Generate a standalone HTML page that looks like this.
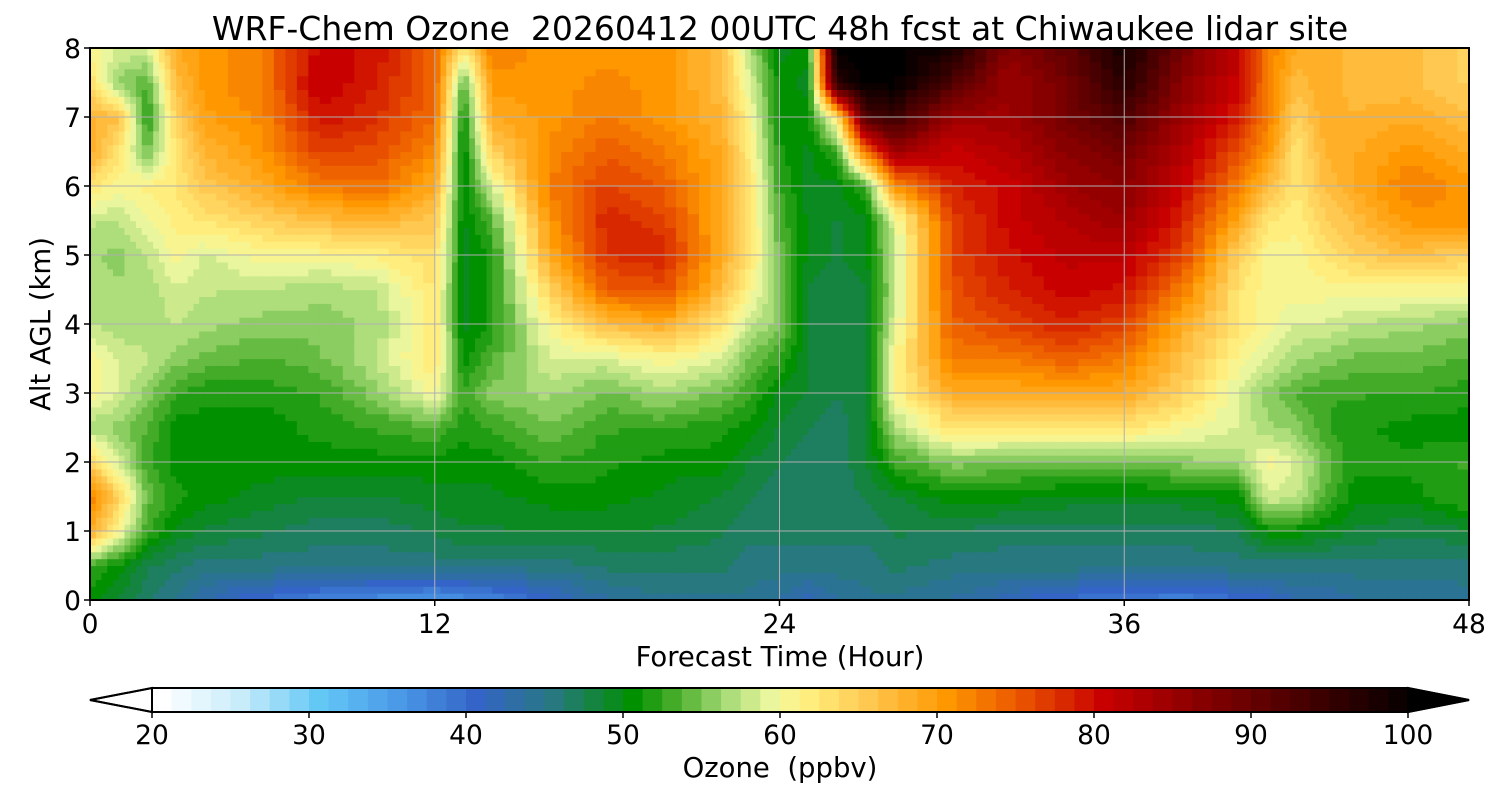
<!DOCTYPE html>
<html><head><meta charset="utf-8"><style>
html,body{margin:0;padding:0;background:#fff;}
svg{display:block;font-family:"DejaVu Sans","Liberation Sans",sans-serif;}
text{white-space:pre;}
</style></head><body>
<svg id="chart" width="1500" height="800" viewBox="0 0 1500 800" xmlns="http://www.w3.org/2000/svg">
<text x="780" y="40" font-size="33" text-anchor="middle" xml:space="preserve">WRF-Chem Ozone  20260412 00UTC 48h fcst at Chiwaukee lidar site</text>
<g id="cells"></g>
<g id="grid"></g>
<rect x="90" y="48" width="1379" height="552" fill="none" stroke="#000" stroke-width="2"/>
<g id="xticks"></g>
<g id="yticks"></g>
<text x="780" y="666" font-size="27.5" text-anchor="middle">Forecast Time (Hour)</text>
<text transform="translate(50,324) rotate(-90)" font-size="27.5" text-anchor="middle">Alt AGL (km)</text>
<g id="cbar"></g>
<g id="cbticks"></g>
<text x="780" y="777" font-size="27.5" text-anchor="middle" xml:space="preserve">Ozone  (ppbv)</text>
</svg>
<script>
const times=[0,1,2,3,4,6,8,10,12,13,14,16,18,20,22,23,24,25,26,27,28,30,32,34,36,38,40,41,42,43,44,46,48];
const alts=[0,0.5,1,1.5,2,2.5,3,3.5,4,4.5,5,5.5,6,6.5,7,7.5,8];
const ozone=[
[50,52,68,72,64,56,60,60,57,56,56,57,62,68,67,63,60],
[48,50,60,64,58,55,58,58,56,56,55,57,60,62,66,55,58],
[46,47,52,54,52,53,55,57,56,56,57,59,61,54,51,53,58],
[44,46,49,51,50,50,52,55,57,58,60,61,62,62,64,66,68],
[42,45,48,50,50,50,51,54,56,57,58,62,65,67,69,70,70],
[39,45,47,49,50,50,51,53,55,57,60,64,68,70,71,72,72],
[37,45,46,48,50,51,52,54,55,56,60,66,72,76,79,81,80],
[36,45,46,48,50,52,55,57,56,57,61,67,73,75,77,78,79],
[35,45,47,49,50,53,60,62,62,62,63,65,68,71,73,74,73],
[36,45,48,49,50,51,52,50,49,49,49,49,49,49,50,53,62],
[37,45,48,49,50,52,55,53,51,51,51,53,58,64,68,70,72],
[40,45,48,50,52,54,56,58,60,64,68,70,72,71,70,70,70],
[43,46,48,50,51,52,54,58,66,74,77,78,76,74,72,71,70],
[44,46,48,49,50,52,56,60,68,75,78,76,74,72,70,70,70],
[44,46,47,48,50,51,54,58,62,66,68,68,68,68,67,66,66],
[44,45,46,47,48,50,52,54,57,60,62,62,62,61,60,58,56],
[43,45,46,46,47,48,49,52,55,55,54,53,52,51,50,50,49],
[41,45,46,46,46,47,48,48,48,48,49,49,49,49,50,49,50],
[43,45,46,46,46,46,47,47,47,47,48,48,49,52,62,96,100],
[44,45,46,47,48,48,48,48,48,48,49,49,52,72,92,100,100],
[44,46,47,48,52,56,60,60,58,57,57,58,70,84,94,100,100],
[43,45,47,50,55,62,68,72,74,75,76,76,78,80,84,92,98],
[41,45,46,50,54,62,68,72,76,78,79,80,80,82,84,84,86],
[39,45,46,49,54,62,68,74,78,80,81,82,84,86,88,88,90],
[38,45,46,49,54,62,68,72,76,79,81,84,86,88,92,96,98],
[37,45,46,49,55,60,64,66,68,72,76,78,80,82,84,86,88],
[39,45,47,50,56,58,58,60,62,62,64,68,72,75,78,80,80],
[40,45,50,58,60,56,55,58,60,60,60,62,66,70,72,72,72],
[42,45,50,57,58,55,53,56,58,60,60,61,62,62,64,66,68],
[42,45,49,53,54,52,52,55,58,60,62,64,66,67,68,68,68],
[43,45,48,50,51,51,52,54,57,60,64,66,68,68,67,66,66],
[43,45,47,50,51,50,52,54,56,60,66,70,72,70,68,66,66],
[44,45,48,52,52,50,51,53,55,60,64,70,70,68,66,64,64]
];
const xTicks=[0,12,24,36,48];
const yTicks=[0,1,2,3,4,5,6,7,8];
const cbTicks=[20,30,40,50,60,70,80,90,100];

const NS="http://www.w3.org/2000/svg";
const X0=90,X1=1469,Y0=600,Y1=48;
function xs(t){return X0+(t-0)/(48-0)*(X1-X0);}
function ys(z){return Y0-(z-0)/(8-0)*(Y0-Y1);}
const CB0=152,CB1=1408;
function cs(v){return CB0+(v-20)/(100-20)*(CB1-CB0);}
const stops=[[20,[255,255,255]],[25,[200,236,250]],[30,[100,200,245]],[35,[74,154,232]],[40,[52,100,200]],[45,[40,120,128]],[50,[0,144,0]],[53,[80,176,48]],[56,[168,220,120]],[59,[240,248,160]],[61,[255,240,128]],[65,[255,200,80]],[70,[255,152,0]],[75,[232,80,0]],[80,[200,0,0]],[90,[96,0,0]],[100,[0,0,0]]];
function color(v){
  v=Math.round(v*0.8)/0.8;
  if(v<=20)v=20; if(v>=100)v=100;
  for(let i=1;i<stops.length;i++){
    if(v<=stops[i][0]){const a=stops[i-1],b=stops[i];const f=(v-a[0])/(b[0]-a[0]);
      const c=a[1].map((q,k)=>Math.round(q+(b[1][k]-q)*f));return `rgb(${c[0]},${c[1]},${c[2]})`;}
  }
  return "#000";
}
function mk(tag,attrs,parent){const e=document.createElementNS(NS,tag);for(const k in attrs)e.setAttribute(k,attrs[k]);parent.appendChild(e);return e;}

const cells=document.getElementById('cells');
const SUB=5;
for(let i=0;i<times.length-1;i++){
  for(let j=0;j<alts.length-1;j++){
    for(let a=0;a<SUB;a++){
      for(let b=0;b<SUB;b++){
        const fx=(a+0.5)/SUB,fy=(b+0.5)/SUB;
        const v=ozone[i][j]*(1-fx)*(1-fy)+ozone[i+1][j]*fx*(1-fy)+ozone[i][j+1]*(1-fx)*fy+ozone[i+1][j+1]*fx*fy;
        const t0=times[i]+(times[i+1]-times[i])*a/SUB,t1=times[i]+(times[i+1]-times[i])*(a+1)/SUB;
        const z0=alts[j]+(alts[j+1]-alts[j])*b/SUB,z1=alts[j]+(alts[j+1]-alts[j])*(b+1)/SUB;
        const r=mk('rect',{x:xs(t0),y:ys(z1),width:xs(t1)-xs(t0)+0.6,height:ys(z0)-ys(z1)+0.6,fill:color(v)},cells);
        
        
      }
    }
  }
}
const grid=document.getElementById('grid');
xTicks.forEach(t=>{const l=mk('line',{x1:xs(t),x2:xs(t),y1:Y1,y2:Y0,stroke:'#b0b0b0','stroke-width':1},grid);
  });
yTicks.forEach(z=>{const l=mk('line',{x1:X0,x2:X1,y1:ys(z),y2:ys(z),stroke:'#b0b0b0','stroke-width':1},grid);
  });
const xt=document.getElementById('xticks');
xTicks.forEach(t=>{mk('line',{x1:xs(t),x2:xs(t),y1:Y0,y2:Y0+6,stroke:'#000','stroke-width':1.5},xt);
  const tx=mk('text',{x:xs(t),y:Y0+33,'font-size':26.5,'text-anchor':'middle'},xt);tx.textContent=t;
  });
const yt=document.getElementById('yticks');
yTicks.forEach(z=>{mk('line',{x1:X0-6,x2:X0,y1:ys(z),y2:ys(z),stroke:'#000','stroke-width':1.5},yt);
  const tx=mk('text',{x:X0-9,y:ys(z)+10,'font-size':26.5,'text-anchor':'end'},yt);tx.textContent=z;
  });
const cb=document.getElementById('cbar');
const CBY0=688,CBY1=712;
for(let v=20;v<100;v+=1.25){
  const r=mk('rect',{x:cs(v),y:CBY0,width:cs(v+1.25)-cs(v)+0.5,height:CBY1-CBY0,fill:color(v+0.6)},cb);
  
}
const lt=mk('polygon',{points:`${CB0},${CBY0} 90,${(CBY0+CBY1)/2} ${CB0},${CBY1}`,fill:'#fff',stroke:'#000','stroke-width':2},cb);

const rt=mk('polygon',{points:`${CB1},${CBY0} 1469,${(CBY0+CBY1)/2} ${CB1},${CBY1}`,fill:'#000',stroke:'#000','stroke-width':2},cb);

mk('polygon',{points:`${CB0},${CBY0} ${CB1},${CBY0} 1469,${(CBY0+CBY1)/2} ${CB1},${CBY1} ${CB0},${CBY1} 90,${(CBY0+CBY1)/2}`,fill:'none',stroke:'#000','stroke-width':2},cb);
const cbt=document.getElementById('cbticks');
cbTicks.forEach(v=>{mk('line',{x1:cs(v),x2:cs(v),y1:CBY1,y2:CBY1+6,stroke:'#000','stroke-width':1.5},cbt);
  const tx=mk('text',{x:cs(v),y:CBY1+32,'font-size':26.5,'text-anchor':'middle'},cbt);tx.textContent=v;
  });
</script>
</body></html>
